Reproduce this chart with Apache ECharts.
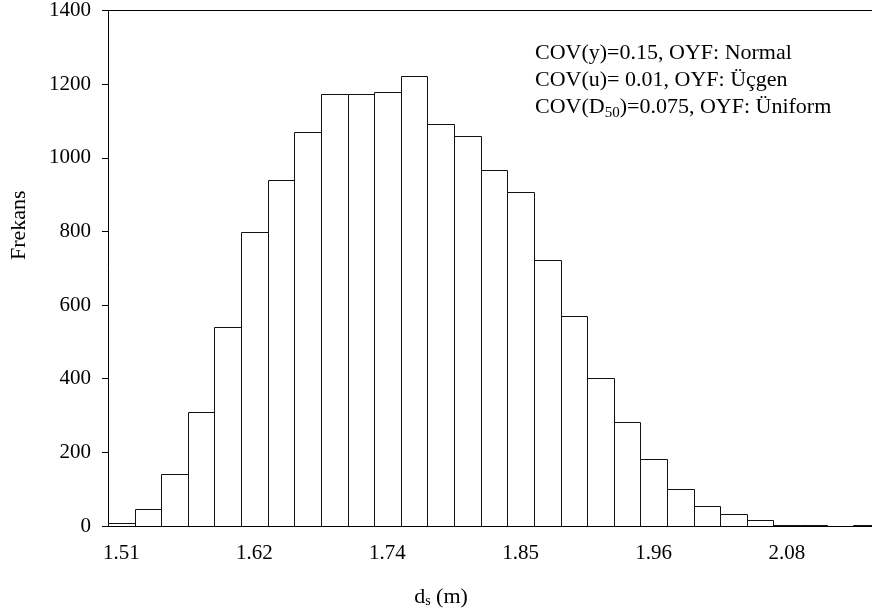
<!DOCTYPE html>
<html>
<head>
<meta charset="utf-8">
<script src="https://cdn.jsdelivr.net/npm/echarts@6/dist/echarts.min.js"></script>
<style>
    html, body { margin: 0; padding: 0; background: #fff; }
    #chart { width: 872px; height: 616px; }
</style>
</head>
<body>
<div id="chart"></div>
<script>
// histogram bins: centre of each bin d_s (m), all bins have the same width
const binCenters = [1.508, 1.5308, 1.5536, 1.5764, 1.5992, 1.622, 1.6448, 1.6676, 1.6904, 1.7132,
    1.736, 1.7588, 1.7816, 1.8044, 1.8272, 1.850, 1.8728, 1.8956, 1.9184, 1.9412,
    1.964, 1.9868, 2.0096, 2.0324, 2.0552, 2.078, 2.1008, 2.1236, 2.1464];
const binWidth = 0.0228;
// frequency per bin
const counts = [7, 46, 141, 309, 540, 798, 939, 1070, 1173, 1173,
    1178, 1221, 1091, 1059, 966, 907, 723, 571, 402, 283,
    182, 101, 53, 33, 15, 4, 3, 1, 3];
// x labels sit on every fifth bin centre
const xTicks = [1.508, 1.622, 1.736, 1.850, 1.964, 2.078];
const yTicks = [0, 200, 400, 600, 800, 1000, 1200, 1400];

const xMin = 1.4966;
const xMax = 2.1510;

const font = 'Liberation Serif';

const chart = echarts.init(document.getElementById('chart'));

const binData = binCenters.map(function (c, i) {
    return [c - binWidth / 2, c + binWidth / 2, counts[i]];
});

const option = {
    backgroundColor: '#fff',
    animation: false,
    grid: {
        left: 106,
        right: 0,
        top: 8,
        bottom: 90
    },
    xAxis: [{
        type: 'value',
        min: xMin,
        max: xMax,
        name: 'd{sub|s} (m)',
        nameLocation: 'middle',
        nameGap: 60,
        nameTextStyle: {
            fontFamily: font,
            fontSize: 22,
            color: '#000',
            padding: [0, 98, 0, 0],
            rich: {
                sub: { fontFamily: font, fontSize: 14, color: '#000', verticalAlign: 'bottom', padding: [8, 0, 0, 0] }
            }
        },
        axisLine: { show: true, onZero: false, lineStyle: { color: '#000', width: 1 } },
        axisTick: { show: false },
        splitLine: { show: false },
        axisLabel: {
            customValues: xTicks,
            margin: 17,
            fontFamily: font,
            fontSize: 21,
            color: '#000',
            formatter: function (v) { return v.toFixed(2); }
        }
    }, {
        // top border of the plot
        type: 'value',
        position: 'top',
        min: xMin,
        max: xMax,
        axisLine: { show: true, onZero: false, lineStyle: { color: '#000', width: 1 } },
        axisTick: { show: false },
        axisLabel: { show: false },
        splitLine: { show: false }
    }],
    yAxis: {
        type: 'value',
        min: 0,
        max: 1400,
        interval: 200,
        name: 'Frekans',
        nameLocation: 'middle',
        nameGap: 78,
        nameTextStyle: {
            fontFamily: font,
            fontSize: 22,
            color: '#000',
            padding: [0, 0, 0, 86]
        },
        axisLine: { show: true, lineStyle: { color: '#000', width: 1 } },
        axisTick: { show: true, inside: false, length: 6, lineStyle: { color: '#000' } },
        splitLine: { show: false },
        axisLabel: {
            customValues: yTicks,
            margin: 17,
            fontFamily: font,
            fontSize: 21,
            color: '#000',
            formatter: function (v) { return String(v); }
        }
    },
    graphic: [{
        type: 'text',
        left: 535,
        top: 40,
        style: {
            text: 'COV(y)=0.15, OYF: Normal\nCOV(u)= 0.01, OYF: Üçgen\nCOV(D{sub|50})=0.075, OYF: Üniform',
            fontFamily: font,
            fontSize: 22,
            lineHeight: 27,
            fill: '#000',
            rich: {
                sub: { fontFamily: font, fontSize: 15, fill: '#000', verticalAlign: 'bottom', lineHeight: 27, padding: [10, 0, 0, 0] }
            }
        }
    }],
    series: [{
        type: 'custom',
        clip: true,
        xAxisIndex: 0,
        data: binData,
        encode: { x: [0, 1], y: 2 },
        renderItem: function (params, api) {
            const p0 = api.coord([api.value(0), 0]);
            const p1 = api.coord([api.value(1), api.value(2)]);
            const x0 = Math.round(p0[0]) + 0.5;
            const x1 = Math.round(p1[0]) + 0.5;
            const yb = Math.round(p0[1]) + 0.5;
            const yt = Math.round(p1[1]) + 0.5;
            return {
                type: 'rect',
                shape: { x: x0, y: yt, width: x1 - x0, height: yb - yt },
                style: { fill: '#fff', stroke: '#111', lineWidth: 1 }
            };
        }
    }]
};

chart.setOption(option);

window.onresize = function () {
    chart.resize();
};
</script>
</body>
</html>
